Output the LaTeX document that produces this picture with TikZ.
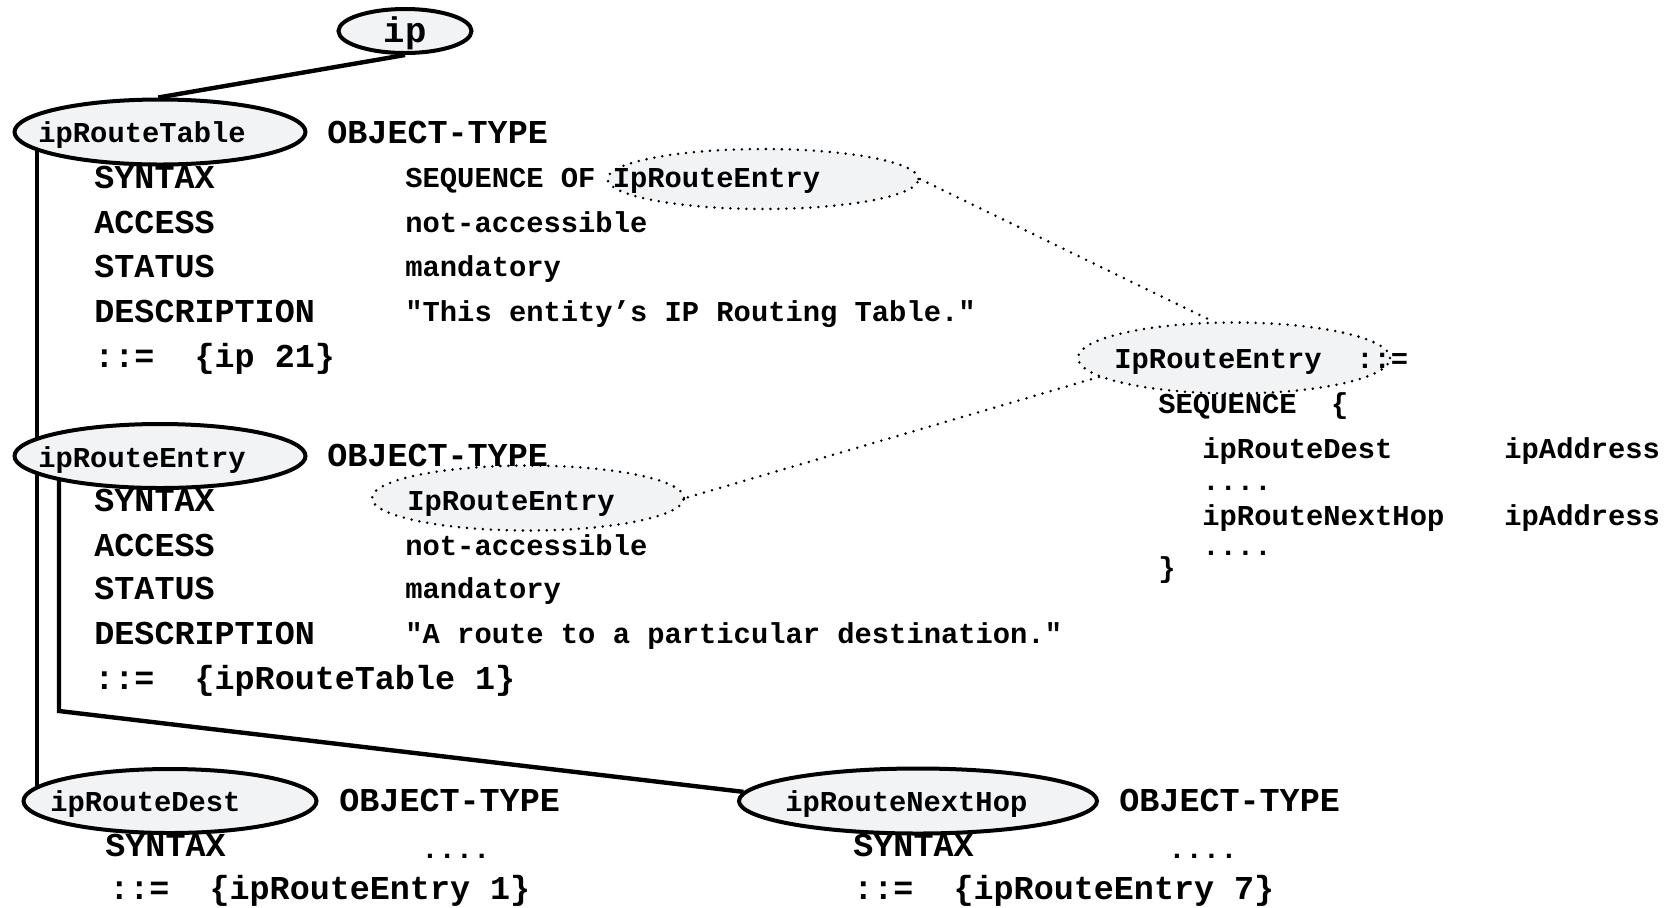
\documentclass[tikz,border=0pt]{standalone}
\usepackage{fontspec}
\setmonofont{Liberation Mono}
\usetikzlibrary{shapes.geometric,calc,backgrounds}
\definecolor{bubble}{RGB}{242,243,245}
\begin{document}
\begin{tikzpicture}[x=0.5pt,y=-0.5pt,
  kw/.style={font=\ttfamily\bfseries\fontsize{16.7pt}{20pt}\selectfont, anchor=west, inner sep=0pt, text height=10pt, text depth=0pt},
  val/.style={font=\ttfamily\bfseries\fontsize{14.4pt}{17pt}\selectfont, anchor=west, inner sep=0pt, text height=8.6pt, text depth=0pt},
  elide/.style={val, anchor=base west, text height=2pt},
  big/.style={font=\ttfamily\bfseries\fontsize{17.8pt}{21pt}\selectfont, inner sep=0pt, text height=10.6pt, text depth=0pt},
  obj/.style={ellipse, draw, line width=2pt, fill=bubble, inner sep=0pt},
  typeref/.style={ellipse, draw, fill=bubble, inner sep=0pt, line width=1.4pt, dash pattern=on 0pt off 4pt, line cap=round},
  tree/.style={line width=2.2pt},
  link/.style={line width=1.4pt, dash pattern=on 0pt off 4.2pt, line cap=round}]

\useasboundingbox (0,0) rectangle (1671,907);

% object ellipses of the MIB tree
\node[obj, minimum width=66.5pt, minimum height=22pt] (ip) at (405,31) {};
\node[obj, minimum width=145.5pt, minimum height=32.5pt] (t1) at (160,132) {};
\node[obj, minimum width=145.5pt, minimum height=32pt] (en) at (160,456) {};
\node[obj, minimum width=146.5pt, minimum height=32pt] (d) at (170,801) {};
\node[obj, minimum width=179pt, minimum height=32.5pt] (nh) at (918,801) {};

% type references
\node[typeref, minimum width=155.5pt, minimum height=30pt] (e1) at (763,179) {};
\node[typeref, minimum width=156pt, minimum height=32.5pt] (e2) at (528,498) {};
\node[typeref, minimum width=156pt, minimum height=35.5pt] (re) at (1234,358) {};

\coordinate (bend) at (59,711);

\begin{scope}[on background layer]
  \draw[tree] (ip.south) -- (t1.93);
  \draw[tree] ($(t1.center)+(-123,0)$) -- ($(en.center)+(-123,0)$);
  \draw[tree] ($(en.center)+(-123,0)$) -- ($(d.center)+(-133,0)$);
  \draw[tree] ($(en.center)+(-101,0)$) -- (bend) -- (nh.177);
\end{scope}
\draw[link] (e1.east) -- (re.120);
\draw[link] (re.188) -- (e2.east);

% labels in the ellipses
\node[big, anchor=center] (ipl) at (405,32) {ip};
\node[val] (t1l) at (38,134) {ipRouteTable};
\node[val] (enl) at (38,459) {ipRouteEntry};
\node[val] (dl) at (50,803) {ipRouteDest};
\node[val] (nhl) at (785,803) {ipRouteNextHop};

% ipRouteTable definition
\node[kw] (a0) at (327,133) {OBJECT-TYPE};
\node[kw] (a1) at (94,178) {SYNTAX};
\node[kw] (a2) at (94,223) {ACCESS};
\node[kw] (a3) at (94,267) {STATUS};
\node[kw] (a4) at (94,312) {DESCRIPTION};
\node[kw] (a5) at (94,357) {::=\ \ \{ip 21\}};
\node[val] (av1) at (405,179) {SEQUENCE OF IpRouteEntry};
\node[val] (av2) at (405,224) {not-accessible};
\node[val] (av3) at (405,268) {mandatory};
\node[val] (av4) at (405,313) {"This entity’s IP Routing Table."};

% ipRouteEntry definition
\node[kw] (b0) at (327,456) {OBJECT-TYPE};
\node[kw] (b1) at (94,501) {SYNTAX};
\node[kw] (b2) at (94,546) {ACCESS};
\node[kw] (b3) at (94,589) {STATUS};
\node[kw] (b4) at (94,634) {DESCRIPTION};
\node[kw] (b5) at (94,679) {::=\ \ \{ipRouteTable 1\}};
\node[val] (bv1) at (407,502) {IpRouteEntry};
\node[val] (bv2) at (405,547) {not-accessible};
\node[val] (bv3) at (405,590) {mandatory};
\node[val] (bv4) at (405,635) {"A route to a particular destination."};

% IpRouteEntry sequence type
\node[val] (s0) at (1114,360) {IpRouteEntry\ \ ::=};
\node[val] (s1) at (1158,405) {SEQUENCE\ \ \{};
\node[val] (s2) at (1202,450) {ipRouteDest};
\node[val] (s2t) at (1504,450) {ipAddress};
\node[elide] (s3) at (1202,490) {....};
\node[val] (s4) at (1202,517) {ipRouteNextHop};
\node[val] (s4t) at (1504,517) {ipAddress};
\node[elide] (s5) at (1202,555) {....};
\node[val] (s6) at (1158,569) {\}};

% ipRouteDest definition
\node[kw] (c0) at (339,801) {OBJECT-TYPE};
\node[kw] (c1) at (105,846) {SYNTAX};
\node[elide] (cv1) at (421,858) {....};
\node[kw] (c2) at (109,889) {::=\ \ \{ipRouteEntry 1\}};

% ipRouteNextHop definition
\node[kw] (f0) at (1119,801) {OBJECT-TYPE};
\node[kw] (f1) at (853,846) {SYNTAX};
\node[elide] (fv1) at (1168,858) {....};
\node[kw] (f2) at (853,889) {::=\ \ \{ipRouteEntry 7\}};
\end{tikzpicture}
\end{document}
